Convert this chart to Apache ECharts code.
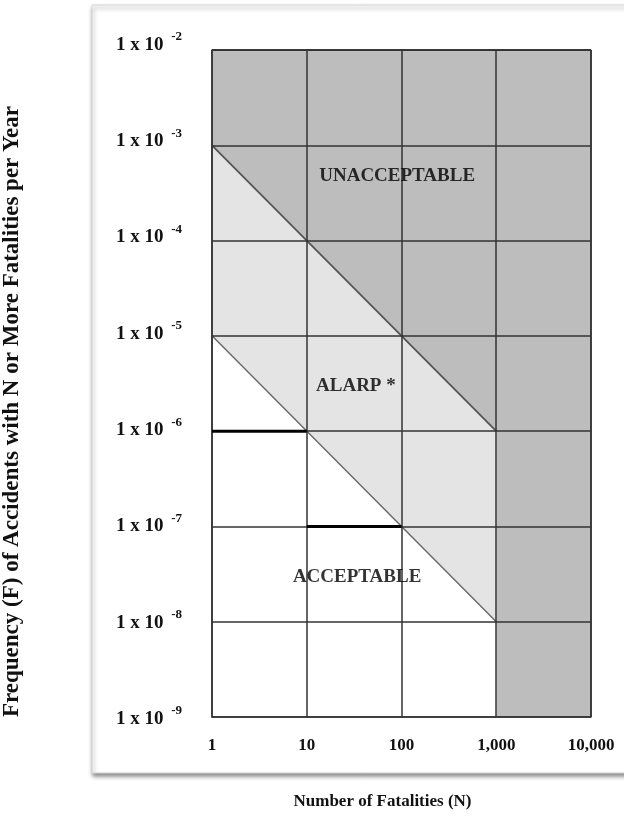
<!DOCTYPE html>
<html>
<head>
<meta charset="utf-8">
<script src="https://cdn.jsdelivr.net/npm/echarts@6/dist/echarts.min.js"></script>
<style>
html,body{margin:0;padding:0;background:#fff;}
#chart{width:624px;height:824px;}
</style>
</head>
<body>
<div id="chart"></div>
<script>
// Axis ticks
const nTicks = [1, 10, 100, 1000, 10000];
const nTickLabels = ['1', '10', '100', '1,000', '10,000'];
const fTicks = [1e-9, 1e-8, 1e-7, 1e-6, 1e-5, 1e-4, 1e-3, 1e-2];
const fTickExps = ['-9', '-8', '-7', '-6', '-5', '-4', '-3', '-2'];

// Region polygons (N, F)
const unacceptableN = [1, 1000, 1000, 10000, 10000, 1];
const unacceptableF = [1e-3, 1e-6, 1e-9, 1e-9, 1e-2, 1e-2];
const alarpN = [1, 1000, 1000, 1];
const alarpF = [1e-5, 1e-8, 1e-6, 1e-3];

// Criterion lines
const upperLineN = [1, 1000];
const upperLineF = [1e-3, 1e-6];
const lowerLineN = [1, 1000];
const lowerLineF = [1e-5, 1e-8];

// Heavy segments
const heavy1N = [1, 10];
const heavy1F = [1e-6, 1e-6];
const heavy2N = [10, 100];
const heavy2F = [1e-7, 1e-7];

// Region labels
const regionNames = ['UNACCEPTABLE', 'ALARP *', 'ACCEPTABLE'];
const regionN = [90, 33, 34];
const regionF = [4.7e-4, 3.0e-6, 2.95e-8];

const zip = (a, b) => a.map((v, i) => [v, b[i]]);

function polygonSeries(ns, fs, color) {
  return {
    type: 'custom',
    z: 1,
    silent: true,
    data: [0],
    renderItem: function (params, api) {
      const pts = ns.map((n, i) => api.coord([n, fs[i]]));
      return { type: 'polygon', shape: { points: pts }, style: { fill: color, stroke: null } };
    }
  };
}

function lineSeries(ns, fs, color, width, z) {
  return {
    type: 'line', z: z, silent: true, symbol: 'none',
    data: zip(ns, fs),
    lineStyle: { color: color, width: width }
  };
}

const serif = '"Liberation Serif", "DejaVu Serif", serif';

// per-label vertical nudge styles (label i shifted by 2 - i px)
const yRich = {};
fTickExps.forEach(function (e, i) {
  const s = 2 - i;
  const top = s > 0 ? 2 * s : 0;
  const bot = s < 0 ? -2 * s : 0;
  yRich['m' + i] = { fontFamily: serif, fontWeight: 'bold', fontSize: 19, color: '#111', padding: [top, 0, bot, 0] };
  yRich['s' + i] = { fontFamily: serif, fontWeight: 'bold', fontSize: 13, color: '#111', padding: [top, 0, bot + 16, 3] };
});

const chart = echarts.init(document.getElementById('chart'), null, { renderer: 'canvas' });
chart.setOption({
  animation: false,
  backgroundColor: '#ffffff',
  graphic: {
    elements: [{
      type: 'rect', z: -100,
      shape: { x: 92, y: 5, width: 560, height: 768 },
      style: { fill: '#ffffff', stroke: '#d4d4d4', lineWidth: 1,
        shadowBlur: 4, shadowColor: 'rgba(0,0,0,0.45)', shadowOffsetX: 1, shadowOffsetY: 3 }
    }]
  },
  grid: { left: 212, top: 50, right: 33, bottom: 107, containLabel: false, outerBoundsMode: 'none' },
  xAxis: {
    type: 'log', logBase: 10, min: 1, max: 10000, z: 5,
    name: 'Number of Fatalities (N)', nameLocation: 'middle', nameGap: 76,
    nameTextStyle: { fontFamily: serif, fontWeight: 'bold', fontSize: 17, color: '#111', padding: [0, 38, 0, 0] },
    axisLine: { show: true, lineStyle: { color: '#333', width: 1.5 } },
    axisTick: { show: false },
    splitLine: { show: true, lineStyle: { color: '#333', width: 1.5 } },
    axisLabel: {
      margin: 20, fontFamily: serif, fontWeight: 'bold', fontSize: 17, color: '#111',
      formatter: function (v) {
        const i = nTicks.findIndex(t => Math.abs(Math.log10(t) - Math.log10(v)) < 1e-6);
        return i >= 0 ? nTickLabels[i] : '';
      }
    }
  },
  yAxis: {
    type: 'log', logBase: 10, min: 1e-9, max: 1e-2, z: 5,
    name: 'Frequency (F) of Accidents with N or More Fatalities per Year',
    nameLocation: 'middle', nameGap: 188, nameRotate: 90,
    nameTextStyle: { fontFamily: serif, fontWeight: 'bold', fontSize: 23, color: '#111', padding: [0, 56, 0, 0] },
    axisLine: { show: true, lineStyle: { color: '#333', width: 1.5 } },
    axisTick: { show: false },
    splitLine: { show: true, lineStyle: { color: '#333', width: 1.5 } },
    axisLabel: {
      margin: 30, fontFamily: serif, fontWeight: 'bold', fontSize: 19, color: '#111',
      formatter: function (v) {
        const i = fTicks.findIndex(t => Math.abs(Math.log10(t) - Math.log10(v)) < 1e-6);
        return i >= 0 ? '{m' + i + '|1 x 10 }{s' + i + '|' + fTickExps[i] + '}' : '';
      },
      rich: yRich
    }
  },
  series: [
    polygonSeries(unacceptableN, unacceptableF, '#bdbdbd'),
    polygonSeries(alarpN, alarpF, '#e4e4e4'),
    lineSeries(upperLineN, upperLineF, '#555', 1.8, 3),
    lineSeries(lowerLineN, lowerLineF, '#666', 1.4, 3),
    lineSeries(heavy1N, heavy1F, '#000', 3, 8),
    lineSeries(heavy2N, heavy2F, '#000', 3, 8),
    {
      type: 'scatter', z: 10, silent: true, symbolSize: 0,
      data: regionNames.map((name, i) => ({ name: name, value: [regionN[i], regionF[i]] })),
      label: {
        show: true, position: 'inside', formatter: '{b}',
        fontFamily: serif, fontWeight: 'bold', fontSize: 19, color: '#000', textBorderWidth: 0
      }
    },
    {
      // right and top border lines on top of shading
      type: 'line', z: 6, silent: true, symbol: 'none',
      data: [[1, 1e-2], [10000, 1e-2], [10000, 1e-9]],
      lineStyle: { color: '#333', width: 1.5 }
    }
  ]
});
</script>
</body>
</html>
